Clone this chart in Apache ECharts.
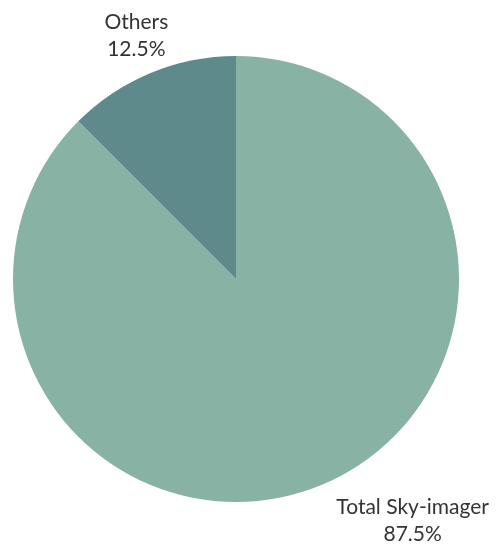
<!DOCTYPE html>
<html>
<head>
<meta charset="utf-8">
<script src="https://cdn.jsdelivr.net/npm/echarts@6/dist/echarts.min.js"></script>
<style>
  html, body { margin: 0; padding: 0; background: #ffffff; }
  #chart { width: 497px; height: 545px; }
</style>
</head>
<body>
<div id="chart"></div>
<script>
// Share of instruments
const categories = ['Total Sky-imager', 'Others'];
const shares = [87.5, 12.5];
const sliceColors = ['#88b3a4', '#5e8a8b'];

const chart = echarts.init(document.getElementById('chart'), null, { renderer: 'canvas' });

chart.setOption({
  animation: false,
  series: [{
    type: 'pie',
    center: [236, 279],
    radius: 223,
    startAngle: 90,
    clockwise: true,
    silent: true,
    data: categories.map((name, i) => ({
      name: name,
      value: shares[i],
      itemStyle: { color: sliceColors[i] }
    })),
    label: {
      show: true,
      position: 'outside',
      formatter: p => p.name + '\n' + p.value + '%',
      fontFamily: 'Lato',
      fontSize: 21,
      lineHeight: 27,
      color: '#333333',
      overflow: 'none',
      distanceToLabelLine: 0
    },
    labelLine: { show: false, length: 40, length2: 0 },
    labelLayout: p => ({
      align: 'center',
      verticalAlign: 'middle',
      dx: p.dataIndex === 0 ? 76 : 1,
      dy: p.dataIndex === 0 ? -1 : 0
    })
  }]
});
</script>
</body>
</html>
